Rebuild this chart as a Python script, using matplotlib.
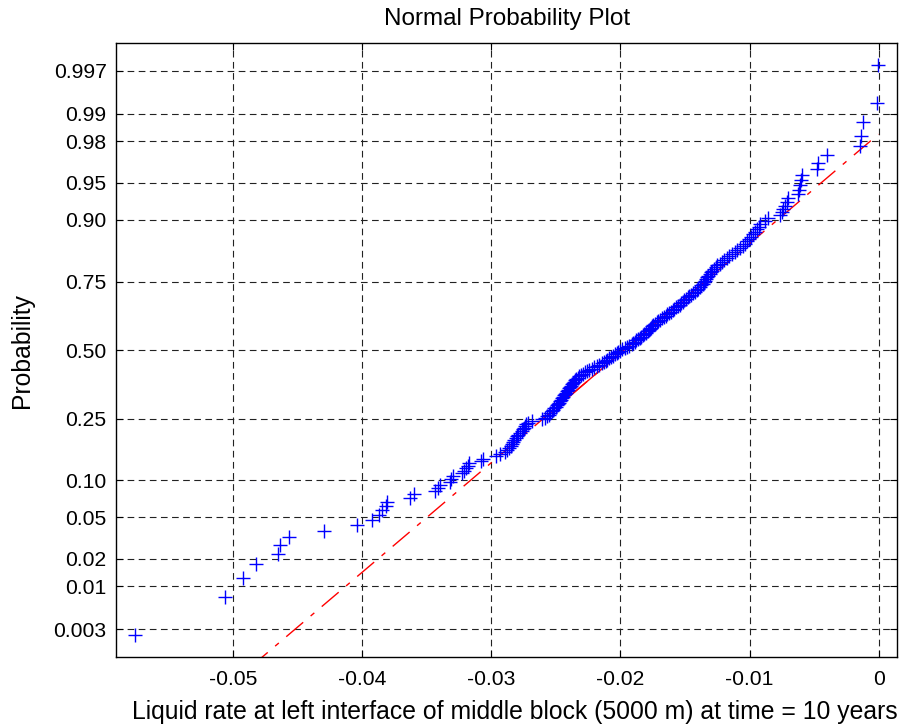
import numpy as np
import matplotlib
matplotlib.use('Agg')
import matplotlib.pyplot as plt
from statistics import NormalDist

plt.rcParams['font.family'] = ['Liberation Sans', 'DejaVu Sans']

# sorted sample values (200 points)
liquid_rate = [
    -0.05758, -0.05058, -0.04924, -0.04818, -0.04647, -0.04632, -0.04567, -0.04298, -0.04037, -0.03924,
    -0.03870, -0.03843, -0.03818, -0.03808, -0.03626, -0.03601, -0.03438, -0.03412, -0.03399, -0.03322,
    -0.03308, -0.03296, -0.03230, -0.03210, -0.03195, -0.03180, -0.03170, -0.03076, -0.03064, -0.02960,
    -0.02934, -0.02890, -0.02875, -0.02860, -0.02850, -0.02840, -0.02830, -0.02822, -0.02812, -0.02800,
    -0.02790, -0.02775, -0.02765, -0.02755, -0.02745, -0.02735, -0.02728, -0.02718, -0.02685, -0.02610,
    -0.02582, -0.02568, -0.02555, -0.02545, -0.02532, -0.02522, -0.02512, -0.02502, -0.02492, -0.02482,
    -0.02474, -0.02466, -0.02458, -0.02450, -0.02442, -0.02434, -0.02427, -0.02420, -0.02412, -0.02405,
    -0.02398, -0.02392, -0.02386, -0.02378, -0.02370, -0.02362, -0.02352, -0.02342, -0.02332, -0.02320,
    -0.02305, -0.02290, -0.02272, -0.02256, -0.02240, -0.02222, -0.02203, -0.02182, -0.02162, -0.02145,
    -0.02130, -0.02115, -0.02100, -0.02085, -0.02070, -0.02058, -0.02045, -0.02030, -0.02015, -0.02000,
    -0.01985, -0.01968, -0.01950, -0.01930, -0.01912, -0.01900, -0.01888, -0.01876, -0.01864, -0.01852,
    -0.01840, -0.01828, -0.01815, -0.01802, -0.01790, -0.01782, -0.01774, -0.01766, -0.01758, -0.01748,
    -0.01735, -0.01720, -0.01706, -0.01692, -0.01678, -0.01664, -0.01650, -0.01636, -0.01622, -0.01610,
    -0.01596, -0.01582, -0.01568, -0.01554, -0.01540, -0.01528, -0.01516, -0.01504, -0.01492, -0.01480,
    -0.01466, -0.01452, -0.01438, -0.01424, -0.01410, -0.01398, -0.01386, -0.01374, -0.01362, -0.01350,
    -0.01342, -0.01334, -0.01326, -0.01318, -0.01310, -0.01300, -0.01288, -0.01276, -0.01262, -0.01250,
    -0.01232, -0.01214, -0.01196, -0.01178, -0.01160, -0.01138, -0.01116, -0.01094, -0.01072, -0.01050,
    -0.01035, -0.01020, -0.01005, -0.00990, -0.00975, -0.00960, -0.00945, -0.00930, -0.00918, -0.00880,
    -0.00854, -0.00764, -0.00750, -0.00738, -0.00725, -0.00712, -0.00699, -0.00622, -0.00615, -0.00609,
    -0.00605, -0.00595, -0.00479, -0.00467, -0.00402, -0.00143, -0.00136, -0.00118, -0.00014, -0.00002,
]

prob_ticks = [0.003, 0.01, 0.02, 0.05, 0.10, 0.25, 0.50, 0.75, 0.90, 0.95, 0.98, 0.99, 0.997]
prob_labels = ['0.003', '0.01', '0.02', '0.05', '0.10', '0.25', '0.50',
               '0.75', '0.90', '0.95', '0.98', '0.99', '0.997']
xtick_vals = [-0.05, -0.04, -0.03, -0.02, -0.01, 0]
xtick_labels = ['-0.05', '-0.04', '-0.03', '-0.02', '-0.01', '0']

nd = NormalDist()
x = np.sort(np.array(liquid_rate))
n = len(x)
z = np.array([nd.inv_cdf((i - 0.5) / n) for i in range(1, n + 1)])

# quartile reference line (matlab-style prctile)
pos = np.arange(1, n + 1) - 0.5
q1 = np.interp(0.25 * n, pos, x)
q3 = np.interp(0.75 * n, pos, x)
z1, z3 = nd.inv_cdf(0.25), nd.inv_cdf(0.75)
slope = (z3 - z1) / (q3 - q1)
def line_z(v):
    return z1 + slope * (np.asarray(v) - q1)

fig = plt.figure(figsize=(9.01, 7.26), dpi=100)
ax = fig.add_axes([0.1292, 0.095, 0.8664, 0.8458])

ax.plot(x, z, '+', color='#0000ff', markersize=9.5, markeredgewidth=1.0, zorder=3)
ext = np.array([x.min(), x.max()])
ax.plot(ext, line_z(ext), color='#ff0000', lw=1.0, linestyle=(0, (16, 7, 3.5, 7)), zorder=2)
ax.plot([q1, q3], [z1, z3], color='#ff0000', lw=1.0, zorder=2)

dx = x.max() - x.min()
ax.set_xlim(x.min() - 0.025 * dx, x.max() + 0.025 * dx)
ax.set_ylim(nd.inv_cdf(0.25 / n), nd.inv_cdf(1 - 0.25 / n))

ax.set_yticks([nd.inv_cdf(p) for p in prob_ticks])
ax.set_yticklabels(prob_labels)
ax.set_xticks(xtick_vals)
ax.set_xticklabels(xtick_labels)

ax.grid(True, color='#222222', linestyle=(0, (6, 4)), linewidth=0.8)
ax.tick_params(direction='in', top=True, right=True, length=5, labelsize=15.2)
ax.tick_params(axis='y', pad=7)
ax.tick_params(axis='x', pad=9)
for s in ax.spines.values():
    s.set_linewidth(1.0)

ax.set_title('Normal Probability Plot', fontsize=17.5, pad=13)
ax.set_xlabel('Liquid rate at left interface of middle block (5000 m) at time = 10 years', fontsize=17.8)
ax.set_ylabel('Probability', fontsize=17.8)
ax.xaxis.set_label_coords(0.51, -0.07)
ax.yaxis.set_label_coords(-0.106, 0.5)

fig.savefig('out.png', dpi=100, facecolor='white')
